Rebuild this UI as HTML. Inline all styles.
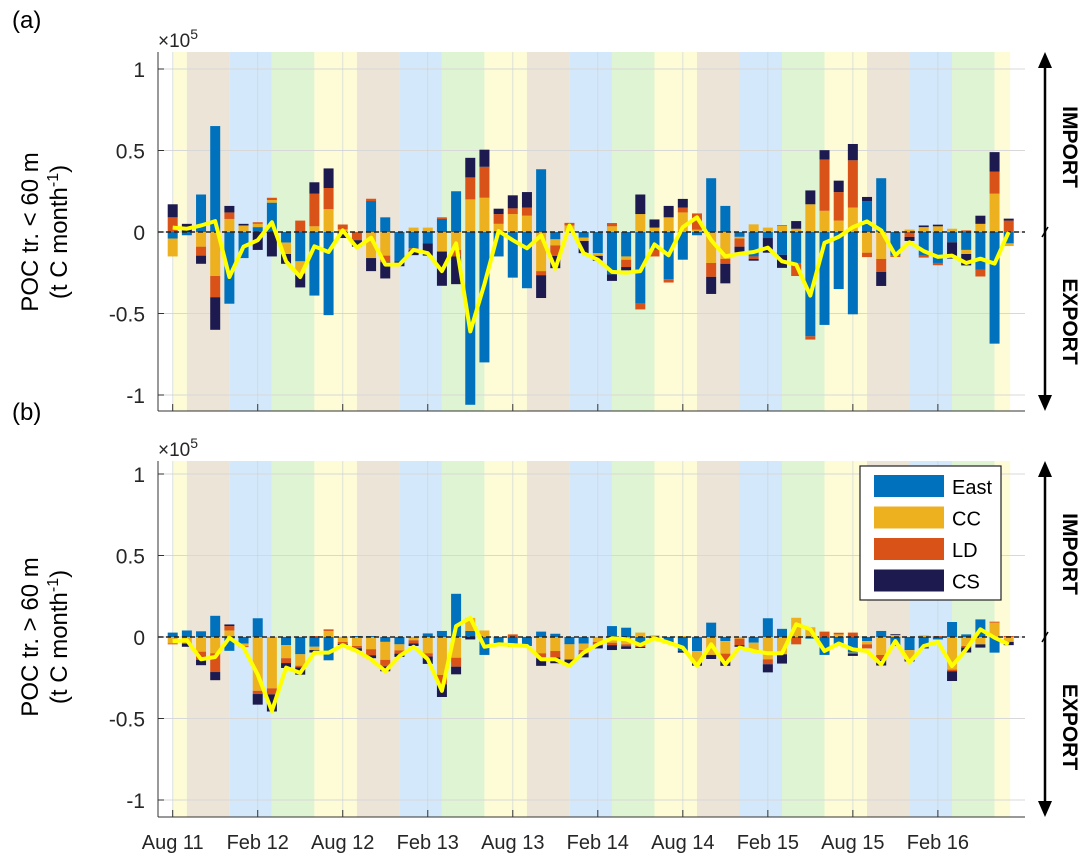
<!DOCTYPE html>
<html><head><meta charset="utf-8"><style>
body{margin:0;background:#fff;}
svg{display:block;font-family:"Liberation Sans",sans-serif;}
</style></head><body>
<svg id="chart" width="1086" height="865"></svg>
<script>
// ---- data (units of 1e5 t C month^-1), 60 months Aug 2011 - Jul 2016 ----
const tickLabels = ["Aug 11","Feb 12","Aug 12","Feb 13","Aug 13","Feb 14","Aug 14","Feb 15","Aug 15","Feb 16"];
const yTicks = [-1,-0.5,0,0.5,1];
const yTickLabels = ["-1","-0.5","0","0.5","1"];
const seriesNames = ["East","CC","LD","CS"];
// Panel (a)
const aEast = [-0.04,-0.02,0.23,0.65,-0.44,-0.16,0.03,0.18,-0.065,-0.18,-0.39,-0.51,0,0,0.19,0.09,-0.18,-0.1,-0.07,0.08,
 0.25,-1.06,-0.8,-0.15,-0.28,-0.345,0.385,-0.045,0,-0.035,-0.13,-0.26,-0.15,-0.44,-0.11,-0.29,-0.17,-0.02,0.33,0.16,
 -0.03,-0.15,-0.037,-0.14,-0.19,-0.64,-0.57,-0.35,-0.505,0.19,0.33,-0.143,0,-0.145,-0.19,-0.063,-0.11,-0.23,-0.685,-0.07];
const aCC = [-0.11,0,-0.09,-0.27,0.08,0.04,0.02,0.016,-0.07,-0.075,0.035,0.14,0.016,0,-0.16,-0.145,0,0.027,0.027,-0.12,
 -0.11,0.2,0.21,0.05,0.11,0.1,-0.24,-0.037,0.04,-0.02,-0.016,0.035,-0.02,0.11,0.027,0.09,0.12,0.014,-0.19,-0.165,
 -0.01,0.047,0.027,0.037,0.02,0.17,0.13,0.07,0.15,-0.127,-0.165,0,0.015,0.03,0.035,0.02,-0.025,0.05,0.235,-0.016];
const aLD = [0.09,0,-0.055,-0.13,0.04,0,0.01,0.014,0,0.07,0.2,0.13,0.03,-0.05,0.014,-0.04,0,-0.012,0,0.01,
 -0.04,0.135,0.19,0.06,0.035,0.05,-0.025,-0.065,0.016,0,0,0.02,-0.045,-0.035,-0.04,-0.02,0.03,0.1,-0.085,-0.03,
 -0.05,-0.016,0,0.005,-0.08,-0.02,0.315,0.175,0.29,-0.027,-0.08,-0.01,-0.03,-0.012,-0.014,0,0.01,-0.043,0.135,0.07];
const aCS = [0.08,0.05,-0.05,-0.2,0.04,0.01,-0.11,-0.15,-0.06,-0.085,0.07,0.12,-0.037,-0.04,-0.08,-0.1,-0.03,-0.03,-0.075,-0.21,
 -0.17,0.12,0.105,0.033,0.08,0.095,-0.14,-0.075,0,-0.075,-0.03,-0.04,-0.02,0.12,0.05,0.07,0.053,0,-0.105,-0.12,
 -0.035,-0.01,-0.09,-0.08,0.047,0.085,0.057,0.07,0.1,0.025,-0.086,0,-0.025,0.01,0.01,-0.1,-0.07,0.05,0.12,0.012];
const aTotal = [0.027,0.02,0.04,0.067,-0.276,-0.09,-0.05,0.06,-0.18,-0.276,-0.088,-0.123,0.01,-0.096,-0.035,-0.2,-0.2,-0.11,-0.13,-0.24,
 -0.07,-0.61,-0.32,0.006,-0.05,-0.1,-0.02,-0.225,0.04,-0.13,-0.17,-0.245,-0.25,-0.24,-0.076,-0.143,0.03,0.09,-0.05,-0.15,
 -0.133,-0.123,-0.096,-0.18,-0.2,-0.39,-0.067,-0.03,0.03,0.065,0.01,-0.143,-0.063,-0.117,-0.153,-0.145,-0.19,-0.164,-0.194,0];
// Panel (b)
const bEast = [0.027,0.04,0.035,0.13,-0.085,-0.04,0.115,0,-0.05,-0.106,-0.06,-0.143,0,0.006,0.006,-0.03,-0.045,0,0.022,0.037,
 0.265,0.037,-0.11,-0.037,-0.045,-0.055,0.033,0.02,-0.045,-0.04,0,0.067,0.057,-0.045,-0.01,-0.04,-0.086,-0.086,0.088,-0.025,
 0,-0.035,0.115,0.05,0,-0.01,-0.11,-0.045,-0.096,-0.025,0.037,-0.055,-0.08,-0.065,-0.015,0.092,0.016,0.108,-0.096,0];
const bCC = [-0.04,-0.04,-0.09,-0.1,0.04,-0.016,-0.33,-0.315,-0.08,-0.07,-0.02,0.037,-0.03,-0.055,-0.075,-0.11,-0.037,-0.02,-0.1,-0.233,
 -0.127,0.08,0.04,0,-0.005,0,-0.1,-0.086,-0.09,-0.04,-0.03,-0.035,-0.045,0.027,0.01,0,0.006,-0.07,-0.11,-0.077,
 -0.01,-0.04,-0.137,-0.106,0.118,0.06,0,0.016,-0.005,-0.02,-0.11,0.012,-0.055,0.01,0,-0.2,-0.055,-0.045,0.088,-0.03];
const bLD = [-0.005,0,-0.05,-0.115,0.027,-0.006,-0.02,-0.037,-0.03,-0.01,0.006,0.01,-0.012,-0.014,-0.037,-0.04,-0.02,-0.02,-0.02,-0.057,
 -0.055,0,0,0,0.016,0,-0.03,-0.04,-0.006,-0.02,-0.02,-0.015,-0.012,-0.016,0,0,0,0,0,-0.04,
 -0.04,-0.01,-0.03,0,-0.045,0,0.033,0.01,0.027,-0.025,-0.03,0,0,0,0.006,-0.01,-0.01,0,0.006,0.006];
const bCS = [0,-0.02,-0.033,-0.05,0.01,0,-0.065,-0.105,-0.03,-0.045,-0.015,0,-0.008,-0.016,-0.018,-0.03,-0.02,-0.015,-0.045,-0.078,
 -0.047,-0.015,0,0,-0.01,0,-0.047,-0.035,-0.025,-0.025,-0.02,-0.03,-0.016,-0.006,0,0,-0.01,-0.02,-0.025,-0.035,
 -0.01,-0.005,-0.05,-0.057,0,0,0,0,-0.015,0,-0.035,0.005,-0.015,-0.005,0,-0.06,-0.03,-0.02,0,-0.02];
const bTotal = [-0.025,-0.02,-0.137,-0.123,-0.004,-0.065,-0.23,-0.454,-0.188,-0.22,-0.096,-0.096,-0.05,-0.086,-0.137,-0.21,-0.117,-0.06,-0.137,-0.33,
 0.067,0.118,-0.06,-0.045,-0.05,-0.055,-0.137,-0.137,-0.178,-0.096,-0.045,-0.008,-0.014,-0.05,-0.008,-0.035,-0.065,-0.178,-0.045,-0.168,
 -0.065,-0.086,-0.1,-0.1,0.078,0.047,-0.086,-0.04,-0.076,-0.086,-0.168,-0.025,-0.157,-0.055,-0.03,-0.178,-0.076,0.047,-0.004,-0.045];
const seasonNames = ["summer","autumn","winter","spring"];

// ---- drawing ----
const NS="http://www.w3.org/2000/svg";
const svg=document.getElementById('chart');
const colors={East:"#0072BD",CC:"#EDB120",LD:"#D95319",CS:"#1C1A4E"};
const seasonColors=["#fdfcd6","#ece4d6","#d3e9fb","#dff4d2"];
function mk(tag,attrs,parent){const e=document.createElementNS(NS,tag);for(const k in attrs)e.setAttribute(k,attrs[k]);(parent||svg).appendChild(e);return e;}
const X0=172.7, DX=14.17, AX_L=158, AX_R=1025;
function xs(t){return X0+DX*t;}

function panel(cfg){
  const g=mk('g',{});
  
  
  const y=v=>cfg.zero-163*v;
  const sg=mk('g',{},g);
  
  
  let starts=[0,1];for(let s=4;s<59;s+=3)starts.push(s);
  for(let k=0;k<starts.length;k++){
    const a=starts[k], b=(k+1<starts.length)?starts[k+1]:59.1;
    const si=k===0?0:((k-1)%4)+1; const ci=si%4;
    const r=mk('rect',{x:xs(a),y:cfg.top,width:xs(b)-xs(a),height:cfg.bot-cfg.top,fill:seasonColors[ci]},sg);
    
    
  }
  yTicks.forEach((v,i)=>{
    mk('line',{x1:AX_L,x2:AX_R,y1:y(v),y2:y(v),stroke:"#d8d8d8","stroke-width":1},g);
    mk('line',{x1:AX_L,x2:AX_L+6,y1:y(v),y2:y(v),stroke:"#333","stroke-width":1},g);
    const t=mk('text',{x:AX_L-13,y:y(v)+8,"text-anchor":"end","font-size":21,fill:"#262626"},g);
    t.textContent=yTickLabels[i];
    
    
  });
  tickLabels.forEach((lab,i)=>{
    const xx=xs(i*6);
    mk('line',{x1:xx,x2:xx,y1:cfg.top,y2:cfg.bot,stroke:"#c9d0d8","stroke-width":1,opacity:0.6},g);
    mk('line',{x1:xx,x2:xx,y1:cfg.bot,y2:cfg.bot-7,stroke:"#333","stroke-width":1},g);
  });
  const series=[cfg.E,cfg.C,cfg.L,cfg.S];
  for(let i=0;i<60;i++){
    let pos=0,neg=0;
    series.forEach((arr,si)=>{
      const v=arr[i]; if(!v) return;
      let y1,y2;
      if(v>0){y1=y(pos+v);y2=y(pos);pos+=v;}else{y1=y(neg);y2=y(neg+v);neg+=v;}
      const r=mk('rect',{x:xs(i)-5,y:y1,width:10,height:Math.max(0.5,y2-y1),fill:colors[seriesNames[si]]},g);
      
      
    });
  }
  mk('line',{x1:AX_L,x2:AX_R,y1:cfg.zero,y2:cfg.zero,stroke:"#222","stroke-width":1.5,"stroke-dasharray":"5,3"},g);
  const pts=cfg.T.map((v,i)=>xs(i).toFixed(1)+','+y(v).toFixed(1)).join(' ');
  const pl=mk('polyline',{points:pts,fill:"none",stroke:"#FFFF00","stroke-width":4,"stroke-linejoin":"round"},g);
  
  
  mk('line',{x1:AX_L,x2:AX_L,y1:cfg.top,y2:cfg.bot,stroke:"#333","stroke-width":1},g);
  mk('line',{x1:AX_L,x2:AX_R,y1:cfg.bot,y2:cfg.bot,stroke:"#333","stroke-width":1},g);
  const ex=mk('text',{x:158,y:cfg.top-5,"font-size":19,fill:"#262626"},g);
  ex.innerHTML='×10<tspan dy="-8" font-size="14">5</tspan>';
  
  
  const pt=mk('text',{x:12,y:cfg.letterY,"font-size":24,fill:"#000"},g);
  pt.textContent=cfg.letter;
  
  
  const mid=cfg.zero;
  const t1=mk('text',{x:0,y:0,"font-size":24,"text-anchor":"middle",transform:`translate(38,${mid}) rotate(-90)`},g);
  t1.textContent=cfg.title;
  
  
  const t2=mk('text',{x:0,y:0,"font-size":24,"text-anchor":"middle",transform:`translate(67,${mid}) rotate(-90)`},g);
  t2.innerHTML='(t C month<tspan dy="-9" font-size="16">-1</tspan><tspan dy="9">)</tspan>';
  
  
  const ax=1045;
  mk('line',{x1:ax,x2:ax,y1:cfg.top+14,y2:cfg.bot-14,stroke:"#000","stroke-width":2.5},g);
  mk('polygon',{points:`${ax-7},${cfg.top+16} ${ax+7},${cfg.top+16} ${ax},${cfg.top}`,fill:"#000"},g);
  mk('polygon',{points:`${ax-7},${cfg.bot-16} ${ax+7},${cfg.bot-16} ${ax},${cfg.bot}`,fill:"#000"},g);
  mk('line',{x1:ax-3,x2:ax+3,y1:cfg.zero+5,y2:cfg.zero-5,stroke:"#000","stroke-width":1.5},g);
  [["IMPORT",(cfg.top+cfg.zero)/2+5],["EXPORT",(cfg.zero+cfg.bot)/2]].forEach(([s,cy])=>{
    const t=mk('text',{x:0,y:0,"font-size":21,"font-weight":"bold","text-anchor":"middle",transform:`translate(1063,${cy}) rotate(90)`},g);
    t.textContent=s;
    
    
  });
  return g;
}
panel({name:'panel-a',zero:232,top:52,bot:411,E:aEast,C:aCC,L:aLD,S:aCS,T:aTotal,letter:'(a)',letterY:28,title:'POC tr. < 60 m'});
panel({name:'panel-b',zero:637,top:461,bot:817,E:bEast,C:bCC,L:bLD,S:bCS,T:bTotal,letter:'(b)',letterY:420,title:'POC tr. > 60 m'});

tickLabels.forEach((lab,i)=>{
  const t=mk('text',{x:xs(i*6),y:849,"font-size":20,"text-anchor":"middle",fill:"#262626"});
  t.textContent=lab;
  
  
});
const lg=mk('g',{});


mk('rect',{x:860,y:466,width:141,height:134,fill:"#fff",stroke:"#222","stroke-width":1.2},lg);
seriesNames.forEach((n,i)=>{
  const yy=475+i*31.5;
  const e=mk('g',{},lg);
  
  
  mk('rect',{x:874,y:yy,width:70,height:22,fill:colors[n]},e);
  const t=mk('text',{x:952,y:yy+19,"font-size":20,fill:"#000"},e);
  t.textContent=n;
});
</script>
</body></html>
